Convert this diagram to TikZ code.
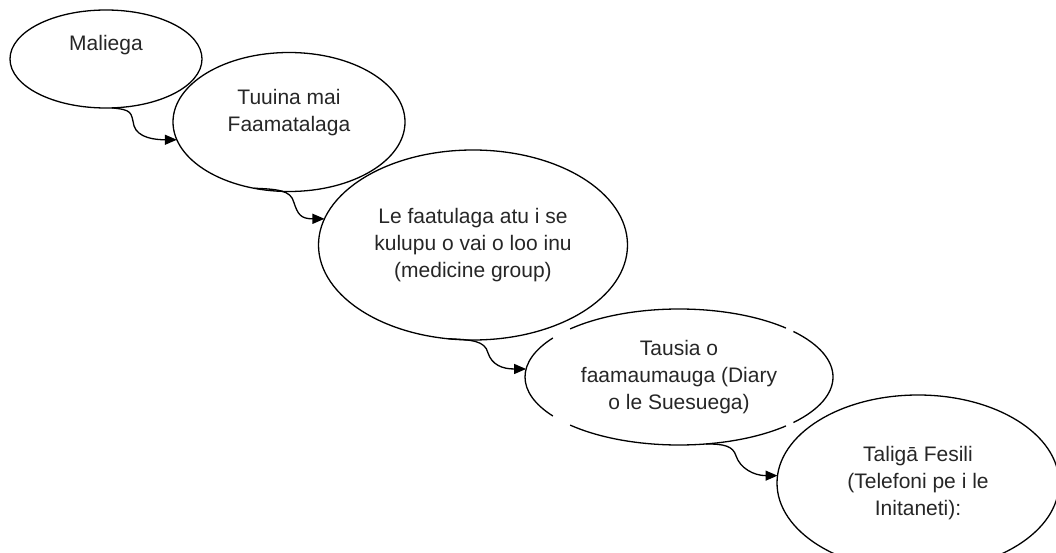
\documentclass[tikz,border=0pt]{standalone}
\usepackage{fontspec}
\setmainfont{Liberation Sans}
\usetikzlibrary{shapes.geometric,arrows.meta}
\begin{document}
\begin{tikzpicture}[x=1pt,y=-1pt,
  bubble/.style={ellipse,draw=black,line width=1.3pt,inner sep=0pt,outer sep=0pt,
    align=center,font=\fontsize{21}{27}\selectfont,text=black!85},
  plainbubble/.style={bubble,draw=none},
  link/.style={line width=1.3pt,-{Triangle[length=12pt,width=10pt]}}]
\useasboundingbox (0,0) rectangle (1056,553);
\node[bubble,minimum width=192pt,minimum height=98pt] (e1) at (106,59) {Maliega\\[6pt]};
\node[bubble,minimum width=232pt,minimum height=139pt] (e2) at (289,122) {Tuuina mai\\Faamatalaga\\[-4pt]};
\node[bubble,minimum width=309pt,minimum height=190pt] (e3) at (473,245) {Le faatulaga atu i se\\kulupu o vai o loo inu\\(medicine group)};
\node[plainbubble,minimum width=308pt,minimum height=136pt] (e4) at (679,377) {Tausia o\\faamaumauga (Diary\\o le Suesuega)};
\node[bubble,minimum width=282pt,minimum height=176pt] (e5) at (918,483) {Taligā Fesili\\(Telefoni pe i le\\Initaneti):};
% broken outline of e4
\begin{scope}[line width=1.3pt]
\draw ([shift={(46:154pt and 68pt)}]e4.center) arc[start angle=46,end angle=135,x radius=154pt,y radius=68pt];
\draw ([shift={(145:154pt and 68pt)}]e4.center) arc[start angle=145,end angle=215,x radius=154pt,y radius=68pt];
\draw ([shift={(225:154pt and 68pt)}]e4.center) arc[start angle=225,end angle=314,x radius=154pt,y radius=68pt];
\draw ([shift={(318:154pt and 68pt)}]e4.center) arc[start angle=318,end angle=402,x radius=154pt,y radius=68pt];
\end{scope}
\draw[link] (e1.-83) .. controls +(20,2) and +(-3,-14) .. +(22,18) .. controls +(4,12) and +(-22,0) .. (e2.189);
\draw[link] (e2.-118) .. controls +(24,1) and +(-3,-12) .. +(40,14) .. controls +(4,12) and +(-24,0) .. (e3.170);
\draw[link] (e3.-105) .. controls +(24,1) and +(-3,-12) .. +(40,14) .. controls +(4,12) and +(-24,0) .. (e4.177);
\draw[link] (e4.-68) .. controls +(18,0) and +(-3,-10) .. +(30,12) .. controls +(4,12) and +(-24,0) .. (e5.177);
\end{tikzpicture}
\end{document}
